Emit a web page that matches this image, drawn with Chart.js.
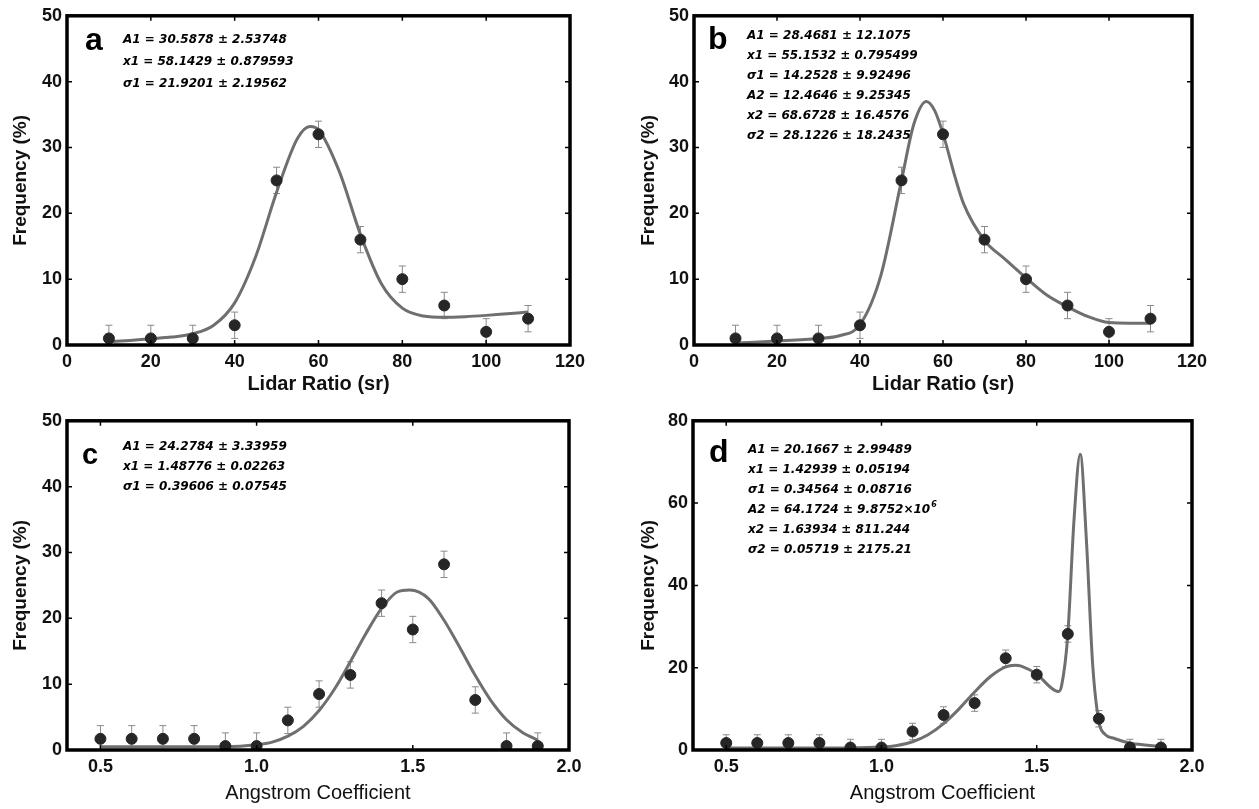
<!DOCTYPE html>
<html>
<head>
<title>Lidar ratio and Angstrom coefficient distributions</title>
<script src="https://cdn.jsdelivr.net/npm/chart.js"></script>
<style>
  body { margin: 0; background: #fff; }
  canvas { position: absolute; }
</style>
</head>
<body>
<canvas id="ca" width="625" height="400" style="left:0;top:0"></canvas>
<canvas id="cb" width="625" height="400" style="left:628px;top:0"></canvas>
<canvas id="cc" width="625" height="404" style="left:0;top:405px"></canvas>
<canvas id="cd" width="625" height="404" style="left:628px;top:405px"></canvas>
<script>
// measured histograms (same counts in a/b and in c/d)
const lidarX = [10, 20, 30, 40, 50, 60, 70, 80, 90, 100, 110];
const lidarFreq = [1, 1, 1, 3, 25, 32, 16, 10, 6, 2, 4];
const lidarErr = [2, 2, 2, 2, 2, 2, 2, 2, 2, 2, 2];

const angX = [0.5, 0.6, 0.7, 0.8, 0.9, 1.0, 1.1, 1.2, 1.3, 1.4, 1.5, 1.6, 1.7, 1.8, 1.9];
const angFreq = [1.7, 1.7, 1.7, 1.7, 0.6, 0.6, 4.5, 8.5, 11.4, 22.3, 18.3, 28.2, 7.6, 0.6, 0.6];
const angErr = [2, 2, 2, 2, 2, 2, 2, 2, 2, 2, 2, 2, 2, 2, 2];

// fitted curves
const fitAx = [10, 15, 20, 25, 30, 35, 40, 45, 50, 55, 58, 60, 65, 70, 75, 80, 85, 90, 95, 100, 105, 110];
const fitAy = [0.5, 0.7, 0.95, 1.2, 1.7, 3.0, 6.4, 13.4, 23.2, 31.4, 33.2, 32.7, 26.3, 16.8, 9.3, 5.6, 4.4, 4.2, 4.3, 4.5, 4.75, 5.0];

const fitBx = [10, 20, 30, 35, 40, 45, 50, 53, 56, 58, 60, 63, 65, 70, 75, 80, 85, 90, 95, 100, 105, 110];
const fitBy = [0.3, 0.6, 1.0, 1.4, 3.1, 10.5, 25.0, 33.6, 37.0, 35.6, 32.1, 25.3, 21.4, 15.9, 13.0, 10.2, 7.6, 5.8, 4.3, 3.4, 3.3, 3.3];

const fitCx = [0.5, 0.6, 0.7, 0.8, 0.9, 1.0, 1.05, 1.1, 1.15, 1.2, 1.25, 1.3, 1.35, 1.4, 1.45, 1.49, 1.55, 1.6, 1.65, 1.7, 1.75, 1.8, 1.85, 1.9];
const fitCy = [0.5, 0.5, 0.5, 0.5, 0.5, 0.8, 1.2, 2.1, 3.6, 6.0, 9.3, 13.4, 17.7, 21.5, 24.0, 24.3, 23.0, 19.7, 15.6, 11.3, 7.5, 4.6, 2.7, 1.5];

const fitDx = [0.5, 0.6, 0.7, 0.8, 0.9, 1.0, 1.05, 1.1, 1.15, 1.2, 1.25, 1.3, 1.35, 1.4, 1.43, 1.45, 1.5, 1.55, 1.57, 1.58, 1.6, 1.62, 1.64, 1.66, 1.68, 1.7, 1.72, 1.75, 1.8, 1.85, 1.9];
const fitDy = [0.5, 0.5, 0.5, 0.5, 0.5, 0.7, 1.1, 2.0, 3.7, 6.4, 10.0, 14.1, 17.8, 20.2, 20.6, 20.4, 18.4, 14.9, 14.2, 15.6, 28.0, 55.9, 71.9, 50.9, 20.9, 6.9, 3.8, 2.8, 1.7, 1.2, 0.9];

// tick labels
const lidarTicks = [0, 20, 40, 60, 80, 100, 120];
const angTicks = [0.5, 1.0, 1.5, 2.0];
const freqTicks50 = [0, 10, 20, 30, 40, 50];
const freqTicks80 = [0, 20, 40, 60, 80];

// fit parameter text
const paramsA = ['A1 = 30.5878 \u00b1 2.53748', 'x1 = 58.1429 \u00b1 0.879593', '\u03c31 = 21.9201 \u00b1 2.19562'];
const paramsB = ['A1 = 28.4681 \u00b1 12.1075', 'x1 = 55.1532 \u00b1 0.795499', '\u03c31 = 14.2528 \u00b1 9.92496',
                 'A2 = 12.4646 \u00b1 9.25345', 'x2 = 68.6728 \u00b1 16.4576', '\u03c32 = 28.1226 \u00b1 18.2435'];
const paramsC = ['A1 = 24.2784 \u00b1 3.33959', 'x1 = 1.48776 \u00b1 0.02263', '\u03c31 = 0.39606 \u00b1 0.07545'];
const paramsD = ['A1 = 20.1667 \u00b1 2.99489', 'x1 = 1.42939 \u00b1 0.05194', '\u03c31 = 0.34564 \u00b1 0.08716',
                 'A2 = 64.1724 \u00b1 9.8752\u00d710^6', 'x2 = 1.63934 \u00b1 811.244', '\u03c32 = 0.05719 \u00b1 2175.21'];

const tickFont = { family: '"Liberation Sans Narrow", "Liberation Sans", Arial', size: 18, weight: 'bold' };

function pairs(xs, ys) {
  return xs.map((v, i) => ({ x: v, y: ys[i] }));
}

function decor(info) {
  return {
    id: 'decor',
    beforeDatasetsDraw(chart) {
      const { ctx, chartArea: a, scales: { x, y } } = chart;
      ctx.save();
      ctx.beginPath();
      ctx.rect(a.left, a.top, a.right - a.left, a.bottom - a.top);
      ctx.clip();
      ctx.strokeStyle = '#8a8a8a';
      ctx.lineWidth = 1;
      info.xs.forEach((v, i) => {
        const px = x.getPixelForValue(v);
        const t = y.getPixelForValue(info.ys[i] + info.err[i]);
        const b = y.getPixelForValue(info.ys[i] - info.err[i]);
        ctx.beginPath();
        ctx.moveTo(px, t); ctx.lineTo(px, b);
        ctx.moveTo(px - 3.5, t); ctx.lineTo(px + 3.5, t);
        ctx.moveTo(px - 3.5, b); ctx.lineTo(px + 3.5, b);
        ctx.stroke();
      });
      ctx.restore();
    },
    afterDraw(chart) {
      const { ctx, chartArea: a, scales: { x, y } } = chart;
      ctx.save();
      // inward ticks
      ctx.strokeStyle = '#000';
      ctx.lineWidth = 1.5;
      ctx.beginPath();
      x.ticks.forEach(t => {
        if (t.value <= x.min || t.value >= x.max) return;
        const px = x.getPixelForValue(t.value);
        ctx.moveTo(px, a.bottom); ctx.lineTo(px, a.bottom - 5);
        ctx.moveTo(px, a.top); ctx.lineTo(px, a.top + 5);
      });
      y.ticks.forEach(t => {
        if (t.value <= y.min || t.value >= y.max) return;
        const py = y.getPixelForValue(t.value);
        ctx.moveTo(a.left, py); ctx.lineTo(a.left + 5, py);
        ctx.moveTo(a.right, py); ctx.lineTo(a.right - 5, py);
      });
      ctx.stroke();
      // frame
      ctx.lineWidth = 3.5;
      ctx.strokeRect(a.left, a.top, a.right - a.left, a.bottom - a.top);
      // panel letter
      ctx.fillStyle = '#000';
      ctx.textBaseline = 'alphabetic';
      ctx.font = 'bold ' + info.letterSize + 'px "Liberation Sans", Arial';
      ctx.fillText(info.letter, a.left + info.letterDx, a.top + info.letterDy);
      // fit parameters
      info.lines.forEach((s, i) => {
        const ty = a.top + info.textDy + i * info.step;
        const parts = s.split('^');
        ctx.font = 'italic bold 12px "DejaVu Sans"';
        ctx.fillText(parts[0], a.left + info.textDx, ty);
        if (parts[1]) {
          const w = ctx.measureText(parts[0]).width;
          ctx.font = 'italic bold 8px "DejaVu Sans"';
          ctx.fillText(parts[1], a.left + info.textDx + w + 1, ty - 6);
        }
      });
      ctx.restore();
    }
  };
}

function makeChart(id, p) {
  new Chart(document.getElementById(id), {
    type: 'scatter',
    data: {
      datasets: [
        { data: pairs(p.xs, p.ys), pointRadius: 5.5, pointHoverRadius: 5.5,
          pointBackgroundColor: '#262626', pointBorderColor: '#262626', showLine: false },
        { data: pairs(p.fx, p.fy), showLine: true, pointRadius: 0, borderColor: '#6f6f6f',
          borderWidth: 3, cubicInterpolationMode: 'monotone', fill: false }
      ]
    },
    options: {
      responsive: false,
      animation: false,
      layout: { padding: { left: 0, top: 14, right: p.padRight, bottom: 0 } },
      plugins: { legend: { display: false }, tooltip: { enabled: false } },
      scales: {
        x: {
          type: 'linear', min: p.xmin, max: p.xmax,
          grid: { display: false, drawTicks: false }, border: { display: false },
          afterBuildTicks: s => { s.ticks = p.xticks.map(v => ({ value: v })); },
          afterFit: s => { s.height = p.xH; },
          ticks: { color: '#111', font: tickFont, padding: 6,
                   callback: v => p.xfix ? v.toFixed(1) : String(v) },
          title: { display: true, text: p.xtitle, color: '#111', padding: { top: 0, bottom: 4 },
                   font: { family: '"Liberation Sans", Arial', size: 20, weight: p.xweight } }
        },
        y: {
          min: 0, max: p.ymax,
          grid: { display: false, drawTicks: false }, border: { display: false },
          afterBuildTicks: s => { s.ticks = p.yticks.map(v => ({ value: v })); },
          afterFit: s => { s.width = p.yW; },
          ticks: { color: '#111', font: tickFont, padding: 5 },
          title: { display: true, text: 'Frequency (%)', color: '#111', padding: { top: 9, bottom: 0 },
                   font: { family: '"Liberation Sans", Arial', size: 19, weight: 'bold' } }
        }
      }
    },
    plugins: [decor(p.decor)]
  });
}

makeChart('ca', {
  xs: lidarX, ys: lidarFreq, fx: fitAx, fy: fitAy, xmin: 0, xmax: 120, ymax: 50,
  xticks: lidarTicks, yticks: freqTicks50, xfix: false, xtitle: 'Lidar Ratio (sr)', xweight: 'bold',
  padRight: 55, yW: 67, xH: 55,
  decor: { xs: lidarX, ys: lidarFreq, err: lidarErr, letter: 'a', letterSize: 32, letterDx: 18, letterDy: 34,
           lines: paramsA, textDx: 56, textDy: 27, step: 22 }
});
makeChart('cb', {
  xs: lidarX, ys: lidarFreq, fx: fitBx, fy: fitBy, xmin: 0, xmax: 120, ymax: 50,
  xticks: lidarTicks, yticks: freqTicks50, xfix: false, xtitle: 'Lidar Ratio (sr)', xweight: 'bold',
  padRight: 61, yW: 66, xH: 55,
  decor: { xs: lidarX, ys: lidarFreq, err: lidarErr, letter: 'b', letterSize: 32, letterDx: 14, letterDy: 33,
           lines: paramsB, textDx: 53, textDy: 23, step: 20 }
});
makeChart('cc', {
  xs: angX, ys: angFreq, fx: fitCx, fy: fitCy, xmin: 0.393, xmax: 2.0, ymax: 50,
  xticks: angTicks, yticks: freqTicks50, xfix: true, xtitle: 'Angstrom Coefficient', xweight: 'normal',
  padRight: 56, yW: 67, xH: 59,
  decor: { xs: angX, ys: angFreq, err: angErr, letter: 'c', letterSize: 29, letterDx: 15, letterDy: 43,
           lines: paramsC, textDx: 56, textDy: 29, step: 20 }
});
makeChart('cd', {
  xs: angX, ys: angFreq, fx: fitDx, fy: fitDy, xmin: 0.393, xmax: 2.0, ymax: 80,
  xticks: angTicks, yticks: freqTicks80, xfix: true, xtitle: 'Angstrom Coefficient', xweight: 'normal',
  padRight: 61, yW: 65, xH: 59,
  decor: { xs: angX, ys: angFreq, err: angErr, letter: 'd', letterSize: 32, letterDx: 16, letterDy: 41,
           lines: paramsD, textDx: 55, textDy: 32, step: 20 }
});
</script>
</body>
</html>
